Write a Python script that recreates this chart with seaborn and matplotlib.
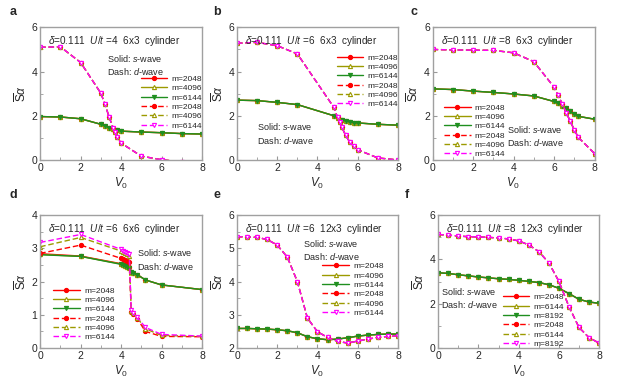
"""
Six-panel pairing correlation plot: s-wave (solid) vs d-wave (dash) against V0.
"""

import numpy as np
import pandas as pd
import matplotlib
matplotlib.use('Agg')
import matplotlib.pyplot as plt
from matplotlib.ticker import MultipleLocator
import seaborn as sns

# ---- panel a: U/t=4, 6x3 ----
a_vs = [0, 1, 2, 3, 3.2, 3.4, 3.6, 3.8, 4, 5, 6, 7, 8]
a_s = [1.97, 1.95, 1.87, 1.62, 1.54, 1.46, 1.40, 1.35, 1.31, 1.27, 1.24, 1.20, 1.18]
a_vd = [0, 1, 2, 3, 3.2, 3.4, 3.6, 3.7, 3.8, 4, 5, 6, 7]
a_d = [5.10, 5.12, 4.41, 3.02, 2.53, 1.97, 1.46, 1.25, 1.03, 0.77, 0.18, 0.02, -0.08]

# ---- panel b: U/t=6, 6x3 ----
b_vs = [0, 1, 2, 3, 4.8, 5.0, 5.2, 5.4, 5.6, 5.8, 6, 7, 8]
b_s = [2.71, 2.69, 2.61, 2.51, 2.01, 1.92, 1.83, 1.77, 1.73, 1.70, 1.68, 1.62, 1.58]
b_vd = [0, 1, 2, 3, 4.8, 5.0, 5.1, 5.2, 5.4, 5.6, 5.8, 6, 7, 8]
b_d = [5.28, 5.32, 5.17, 4.80, 2.40, 1.93, 1.72, 1.50, 1.12, 0.82, 0.63, 0.47, 0.10, 0.01]

# ---- panel c: U/t=8, 6x3 ----
c_v = [0, 1, 2, 3, 4, 5, 6, 6.2, 6.4, 6.6, 6.8, 7.0, 7.2, 8]
c_s = [3.22, 3.19, 3.12, 3.06, 2.99, 2.90, 2.65, 2.56, 2.46, 2.34, 2.20, 2.07, 1.98, 1.85]
c_d = [5.00, 4.98, 4.97, 4.96, 4.85, 4.45, 3.30, 2.93, 2.55, 2.15, 1.76, 1.37, 1.03, 0.30]

# ---- panel d: U/t=6, 6x6 (m values differ) ----
d_v = [0, 2, 4, 4.1, 4.2, 4.3, 4.4, 4.5, 4.6, 4.8, 5.2, 6, 8]
d_s_2048 = [2.84, 2.77, 2.54, 2.51, 2.49, 2.46, 2.43, 2.29, 2.26, 2.21, 2.05, 1.90, 1.76]
d_s_4096 = [2.82, 2.76, 2.53, 2.50, 2.48, 2.45, 2.42, 2.28, 2.25, 2.21, 2.05, 1.90, 1.76]
d_s_6144 = [2.81, 2.76, 2.52, 2.50, 2.48, 2.45, 2.42, 2.28, 2.25, 2.21, 2.05, 1.90, 1.76]
d_d_2048 = [2.85, 3.10, 2.70, 2.67, 2.64, 2.62, 2.60, 1.08, 1.03, 0.88, 0.50, 0.35, 0.34]
d_d_4096 = [3.05, 3.33, 2.92, 2.88, 2.85, 2.82, 2.78, 1.12, 1.05, 0.91, 0.58, 0.38, 0.35]
d_d_6144 = [3.18, 3.42, 2.97, 2.93, 2.90, 2.87, 2.84, 1.14, 1.07, 0.93, 0.62, 0.41, 0.36]

# ---- panel e: U/t=6, 12x3 ----
e_v = [0, 0.5, 1, 1.5, 2, 2.5, 3, 3.5, 4, 4.5, 5, 5.5, 6, 6.5, 7, 7.5, 8]
e_s = [2.59, 2.59, 2.58, 2.57, 2.55, 2.52, 2.46, 2.34, 2.28, 2.25, 2.27, 2.31, 2.36, 2.39, 2.41, 2.42, 2.42]
e_d = [5.35, 5.35, 5.33, 5.27, 5.10, 4.74, 4.00, 2.90, 2.49, 2.32, 2.20, 2.15, 2.21, 2.27, 2.32, 2.35, 2.37]

# ---- panel f: U/t=8, 12x3 ----
f_v = [0, 0.5, 1, 1.5, 2, 2.5, 3, 3.5, 4, 4.5, 5, 5.5, 6, 6.5, 7, 7.5, 8]
f_s = [3.40, 3.37, 3.31, 3.26, 3.21, 3.17, 3.13, 3.10, 3.06, 3.01, 2.96, 2.86, 2.70, 2.46, 2.20, 2.08, 2.02]
f_d = [5.13, 5.10, 5.06, 5.03, 5.02, 5.00, 4.97, 4.93, 4.84, 4.66, 4.36, 3.85, 3.01, 1.87, 0.93, 0.47, 0.22]

m_labels = ['m=2048', 'm=4096', 'm=6144']
m_labels_f = ['m=2048', 'm=6144', 'm=8192']

RED = '#ff0000'
OLIVE = '#9c9a00'
GREEN = '#1f8f1f'
MAGENTA = '#ff00ff'
DASH = (0, (4, 2))

sns.set_style('ticks')
plt.rcParams['font.family'] = ['Liberation Sans', 'DejaVu Sans']
plt.rcParams['mathtext.fontset'] = 'custom'
plt.rcParams['mathtext.rm'] = 'Liberation Sans'
plt.rcParams['mathtext.it'] = 'Liberation Sans:italic'


def draw_series(ax, x, y, label, color, marker, hollow, dashed):
    kw = dict(linewidth=1.0, markersize=3.0, markeredgewidth=0.8,
              markeredgecolor=color,
              markerfacecolor='white' if hollow else color)
    if dashed:
        kw['linestyle'] = DASH
    sns.lineplot(x=x, y=y, ax=ax, color=color, marker=marker, label=label,
                 estimator=None, sort=False, **kw)


def draw_panel(ax, solid, dash, labels, ylim, ymajor, title,
               leg_loc, leg_anchor, note_xy, note_va='top'):
    styles_s = [(RED, 'o', False), (OLIVE, '^', True), (GREEN, 'v', False)]
    styles_d = [(RED, 'o', False), (OLIVE, '^', True), (MAGENTA, 'v', True)]
    for (x, y), lab, (col, mk, hol) in zip(solid, labels, styles_s):
        draw_series(ax, x, y, lab, col, mk, hol, False)
    for (x, y), lab, (col, mk, hol) in zip(dash, labels, styles_d):
        draw_series(ax, x, y, lab, col, mk, hol, True)

    ax.set_xlim(0, 8)
    ax.set_ylim(*ylim)
    ax.xaxis.set_major_locator(MultipleLocator(2))
    ax.xaxis.set_minor_locator(MultipleLocator(1))
    ax.yaxis.set_major_locator(MultipleLocator(ymajor))
    ax.yaxis.set_minor_locator(MultipleLocator(ymajor / 2))
    ax.tick_params(which='both', direction='in', color='#999999', labelsize=7.5,
                   pad=2)
    ax.tick_params(which='major', length=3)
    ax.tick_params(which='minor', length=2)
    for sp in ax.spines.values():
        sp.set_color('#a0a0a0')
        sp.set_linewidth(1.0)
    ax.set_xlabel(r'$V_0$', fontsize=8.5, labelpad=2)
    ax.set_ylabel(r'$\overline{\mathrm{S}}\alpha$', fontsize=8.5, labelpad=2)

    ax.text(0.05, 0.95, title, transform=ax.transAxes, fontsize=7.2,
            va='top', ha='left')
    ax.text(note_xy[0], note_xy[1],
            'Solid: $\\it{s}$-wave\nDash: $\\it{d}$-wave',
            transform=ax.transAxes, fontsize=6.5, va=note_va, ha='left',
            linespacing=1.3)
    ax.legend(loc=leg_loc, bbox_to_anchor=leg_anchor, frameon=False,
              fontsize=6, handlelength=3.2, labelspacing=0.18, borderpad=0,
              handletextpad=0.5, borderaxespad=0)


fig = plt.figure(figsize=(6.18, 3.85), dpi=100)

col_left = [0.065, 0.3835, 0.70]
col_left_b = [0.065, 0.3835, 0.709]
w, h = 0.262, 0.345
ax_a = fig.add_axes([col_left[0], 0.584, w, h])
ax_b = fig.add_axes([col_left[1], 0.584, 0.2605, h])
ax_c = fig.add_axes([col_left[2], 0.584, w, h])
ax_d = fig.add_axes([col_left_b[0], 0.096, w, h])
ax_e = fig.add_axes([col_left_b[1], 0.096, 0.2605, h])
ax_f = fig.add_axes([col_left_b[2], 0.096, 0.2605, h])

draw_panel(ax_a, [(a_vs, a_s)] * 3, [(a_vd, a_d)] * 3, m_labels, (0, 6), 2,
           r'$\delta$=0.111  $\it{U/t}$ =4  6x3  cylinder',
           'upper right', (1.0, 0.64), (0.41, 0.81))
draw_panel(ax_b, [(b_vs, b_s)] * 3, [(b_vd, b_d)] * 3, m_labels, (0, 6), 2,
           r'$\delta$=0.111  $\it{U/t}$ =6  6x3  cylinder',
           'upper right', (1.0, 0.80), (0.125, 0.295))
draw_panel(ax_c, [(c_v, c_s)] * 3, [(c_v, c_d)] * 3, m_labels, (0, 6), 2,
           r'$\delta$=0.111  $\it{U/t}$ =8  6x3  cylinder',
           'lower left', (0.07, 0.015), (0.46, 0.09), note_va='bottom')
draw_panel(ax_d, [(d_v, d_s_2048), (d_v, d_s_4096), (d_v, d_s_6144)],
           [(d_v, d_d_2048), (d_v, d_d_4096), (d_v, d_d_6144)],
           m_labels, (0, 4), 1,
           r'$\delta$=0.111  $\it{U/t}$ =6  6x6  cylinder',
           'lower left', (0.08, 0.05), (0.60, 0.76))
draw_panel(ax_e, [(e_v, e_s)] * 3, [(e_v, e_d)] * 3, m_labels, (2, 6), 1,
           r'$\delta$=0.111  $\it{U/t}$ =6  12x3  cylinder',
           'upper right', (0.91, 0.645), (0.41, 0.83))
draw_panel(ax_f, [(f_v, f_s)] * 3, [(f_v, f_d)] * 3, m_labels_f, (0, 6), 2,
           r'$\delta$=0.111  $\it{U/t}$ =8  12x3  cylinder',
           'lower left', (0.40, 0.0), (0.02, 0.47))

for lab, x, y in [('a', 0.015, 0.985), ('b', 0.345, 0.985), ('c', 0.665, 0.985),
                  ('d', 0.015, 0.51), ('e', 0.345, 0.51), ('f', 0.655, 0.51)]:
    fig.text(x, y, lab, fontsize=9, fontweight='bold', va='top', ha='left')

fig.savefig('out.png', dpi=100)
